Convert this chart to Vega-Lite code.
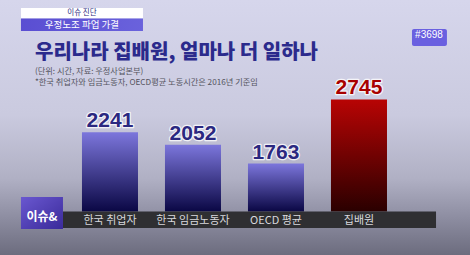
{
  "$schema": "https://vega.github.io/schema/vega-lite/v6.json",
  "width": 470,
  "height": 255,
  "autosize": "none",
  "padding": 0,
  "background": "#c8c8dc",
  "view": {
    "stroke": null,
    "fill": {"gradient": "linear", "x1": 0, "y1": 0, "x2": 0, "y2": 1,
      "stops": [
        {"offset": 0, "color": "#d6d6ec"},
        {"offset": 0.45, "color": "#cacadf"},
        {"offset": 0.7, "color": "#b0b0c4"},
        {"offset": 0.85, "color": "#8e8ea2"},
        {"offset": 1, "color": "#6c6c7e"}
      ]}
  },
  "title": {
    "text": "우리나라 집배원, 얼마나 더 일하나",
    "subtitle": ["(단위: 시간, 자료: 우정사업본부)", "*한국 취업자와 임금노동자, OECD평균 노동시간은 2016년 기준임"],
    "orient": "top",
    "anchor": "start",
    "frame": "group",
    "offset": -86,
    "dx": 35,
    "font": "Noto Sans CJK KR",
    "fontSize": 20,
    "fontWeight": 900,
    "color": "#2b2a8c",
    "subtitleFont": "Noto Sans CJK KR",
    "subtitleFontSize": 8.2,
    "subtitleColor": "#55555f",
    "subtitleLineHeight": 11,
    "subtitlePadding": 5
  },
  "data": {
    "values": [
      {"구분": "한국 취업자", "시간": 2241},
      {"구분": "한국 임금노동자", "시간": 2052},
      {"구분": "OECD 평균", "시간": 1763},
      {"구분": "집배원", "시간": 2745}
    ]
  },
  "layer": [
    {
      "transform": [{"filter": "datum['구분'] !== '집배원'"}],
      "mark": {"type": "bar",
        "color": {"gradient": "linear", "x1": 0, "y1": 0, "x2": 0, "y2": 1,
          "stops": [{"offset": 0, "color": "#7c76dc"}, {"offset": 1, "color": "#0a0744"}]}},
      "encoding": {
        "x": {"field": "구분", "type": "nominal", "sort": null,
          "scale": {"range": [63, 437], "paddingInner": 0.325, "paddingOuter": 0.4155, "align": 0.275},
          "axis": {"orient": "bottom", "offset": -35, "title": null, "ticks": false, "grid": false,
            "domain": false, "zindex": 1,
            "labelColor": "#d8d8dc", "labelFont": "Noto Sans CJK KR", "labelFontSize": 11,
            "labelBaseline": "middle", "labelPadding": 0, "labelAngle": 0}},
        "y": {"field": "시간", "type": "quantitative", "axis": null,
          "scale": {"domain": [360, 4271], "zero": false, "nice": false}},
        "y2": {"datum": 1027}
      }
    },
    {
      "transform": [{"filter": "datum['구분'] === '집배원'"}],
      "mark": {"type": "bar",
        "color": {"gradient": "linear", "x1": 0, "y1": 0, "x2": 0, "y2": 1,
          "stops": [{"offset": 0, "color": "#b80404"}, {"offset": 1, "color": "#2a0000"}]}},
      "encoding": {
        "x": {"field": "구분", "type": "nominal", "sort": null},
        "y": {"field": "시간", "type": "quantitative"},
        "y2": {"datum": 1027}
      }
    },
    {
      "data": {"values": [{"strip": "label band"}]},
      "mark": {"type": "rect", "color": "#2a2a2c", "opacity": 0.95},
      "encoding": {
        "x": {"datum": "한국 취업자", "bandPosition": -0.339},
        "x2": {"datum": "집배원", "bandPosition": 1.875},
        "y": {"datum": 1027},
        "y2": {"datum": 774}
      }
    },
    {
      "mark": {"type": "text", "font": "Liberation Sans", "fontSize": 21, "fontWeight": "bold",
        "baseline": "alphabetic", "dy": -5, "stroke": "#ffffff", "strokeWidth": 2.5, "strokeJoin": "round", "strokeOpacity": 0.8},
      "encoding": {
        "x": {"field": "구분", "type": "nominal", "sort": null},
        "y": {"field": "시간", "type": "quantitative"},
        "text": {"field": "시간", "type": "quantitative", "format": "d"},
        "color": {"value": "#ffffff"}
      }
    },
    {
      "mark": {"type": "text", "font": "Liberation Sans", "fontSize": 21, "fontWeight": "bold",
        "baseline": "alphabetic", "dy": -5},
      "encoding": {
        "x": {"field": "구분", "type": "nominal", "sort": null},
        "y": {"field": "시간", "type": "quantitative"},
        "text": {"field": "시간", "type": "quantitative", "format": "d"},
        "color": {"condition": {"test": "datum['구분'] === '집배원'", "value": "#a80000"}, "value": "#2b2880"}
      }
    },
    {
      "data": {"values": [{"banner": "이슈 진단"}]},
      "mark": {"type": "rect", "color": "#ffffff"},
      "encoding": {
        "x": {"datum": "한국 취업자", "bandPosition": -1.089},
        "x2": {"datum": "한국 취업자", "bandPosition": 1.089},
        "y": {"datum": 4148},
        "y2": {"datum": 3987}
      }
    },
    {
      "data": {"values": [{"banner": "우정노조 파업 가결"}]},
      "mark": {"type": "rect",
        "color": {"gradient": "linear", "x1": 0, "y1": 0, "x2": 1, "y2": 0,
          "stops": [{"offset": 0, "color": "#5a4ed2"}, {"offset": 1, "color": "#6a62dc"}]}},
      "encoding": {
        "x": {"datum": "한국 취업자", "bandPosition": -1.089},
        "x2": {"datum": "한국 취업자", "bandPosition": 1.089},
        "y": {"datum": 3987},
        "y2": {"datum": 3796}
      }
    },
    {
      "data": {"values": [{"banner": "이슈 진단", "v": 4067}, {"banner": "우정노조 파업 가결", "v": 3895}]},
      "mark": {"type": "text", "font": "Noto Sans CJK KR", "baseline": "middle"},
      "encoding": {
        "x": {"datum": "한국 취업자", "bandPosition": 0},
        "y": {"field": "v", "type": "quantitative"},
        "text": {"field": "banner"},
        "size": {"condition": {"test": "datum.banner === '이슈 진단'", "value": 7.5}, "value": 9.5},
        "color": {"condition": {"test": "datum.banner === '이슈 진단'", "value": "#2a2a80"}, "value": "#ffffff"}
      }
    },
    {
      "data": {"values": [{"badge": "#3698"}]},
      "mark": {"type": "rect", "color": "#6a60e0", "cornerRadius": 2},
      "encoding": {
        "x": {"datum": "집배원", "bandPosition": 1.446},
        "x2": {"datum": "집배원", "bandPosition": 2.07},
        "y": {"datum": 3826},
        "y2": {"datum": 3566}
      }
    },
    {
      "data": {"values": [{"badge": "#3698"}]},
      "mark": {"type": "text", "font": "Liberation Sans", "fontSize": 10, "color": "#ffffff", "baseline": "middle"},
      "encoding": {
        "x": {"datum": "집배원", "bandPosition": 1.75},
        "y": {"datum": 3734},
        "text": {"field": "badge"}
      }
    },
    {
      "data": {"values": [{"logo": "이슈&"}]},
      "mark": {"type": "rect",
        "color": {"gradient": "linear", "x1": 0, "y1": 0, "x2": 1, "y2": 1,
          "stops": [{"offset": 0, "color": "#6a58d0"}, {"offset": 1, "color": "#3a2a9a"}]}},
      "encoding": {
        "x": {"datum": "한국 취업자", "bandPosition": -1.089},
        "x2": {"datum": "한국 취업자", "bandPosition": -0.339},
        "y": {"datum": 1250},
        "y2": {"datum": 759}
      }
    },
    {
      "data": {"values": [{"logo": "이슈&"}]},
      "mark": {"type": "text", "font": "Noto Sans CJK KR", "fontSize": 12, "fontWeight": "bold", "color": "#ffffff", "baseline": "middle"},
      "encoding": {
        "x": {"datum": "한국 취업자", "bandPosition": -0.714},
        "y": {"datum": 940},
        "text": {"field": "logo"}
      }
    }
  ]
}
